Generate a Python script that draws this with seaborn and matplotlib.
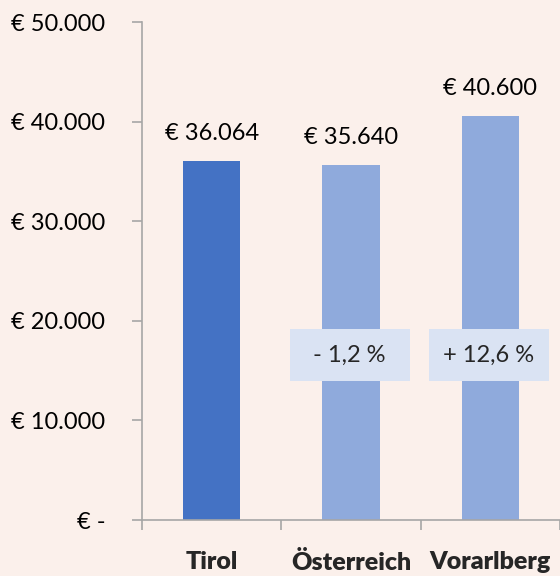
import matplotlib
matplotlib.use("Agg")
import matplotlib.pyplot as plt
import seaborn as sns
import pandas as pd
from matplotlib.patches import Rectangle
from matplotlib.ticker import FuncFormatter, FixedLocator

# data
regions = ["Tirol", "Österreich", "Vorarlberg"]
income = [36064, 35640, 40600]
income_labels = ["€ 36.064", "€ 35.640", "€ 40.600"]
diff_labels = [None, "- 1,2 %", "+ 12,6 %"]
y_ticks = [0, 10000, 20000, 30000, 40000, 50000]

bg = "#FBF0EB"
bar_colors = ["#4472C4", "#8FAADC", "#8FAADC"]
box_color = "#DAE3F3"
axis_color = "#A6A6A6"

sns.set_style("white")
plt.rcParams["font.family"] = ["Lato", "DejaVu Sans"]

df = pd.DataFrame({"region": regions, "income": income})

fig = plt.figure(figsize=(5.6, 5.76), dpi=100, facecolor=bg)
ax = fig.add_axes([0.2536, 0.0972, 0.7464, 0.8646])
ax.set_facecolor(bg)

sns.barplot(data=df, x="region", y="income", hue="region", palette=bar_colors,
            width=0.41, legend=False, ax=ax, saturation=1, linewidth=0)

ax.set_xlim(-0.5, 2.5)
ax.set_ylim(0, 50000)

# value labels above bars
for i, (v, lab) in enumerate(zip(income, income_labels)):
    ax.annotate(lab, (i, v), xytext=(0, 12), textcoords="offset points",
                ha="center", va="bottom", fontsize=17, color="black")

# difference boxes
for i, lab in enumerate(diff_labels):
    if lab is None:
        continue
    ax.add_patch(Rectangle((i - 0.44, 13950), 0.86, 5250, facecolor=box_color,
                           edgecolor="none", zorder=3))
    ax.text(i - 0.01, 16575, lab, ha="center", va="center", fontsize=17, zorder=4)

# axes styling
for s in ["top", "right"]:
    ax.spines[s].set_visible(False)
for s in ["left", "bottom"]:
    ax.spines[s].set_color(axis_color)
    ax.spines[s].set_linewidth(1.2)

ax.yaxis.set_major_locator(FixedLocator(y_ticks))
ax.yaxis.set_major_formatter(FuncFormatter(
    lambda v, p: "€ -" if v == 0 else "€ " + f"{int(v):,}".replace(",", ".")))
ax.tick_params(axis="y", direction="out", length=7.5, width=1.2, color=axis_color,
               pad=19, labelsize=17, labelcolor="black")
ax.yaxis.set_ticks_position("left")

ax.set_xticks(range(len(regions)))
ax.set_xticklabels(regions, fontweight="heavy", fontsize=18)
ax.set_xticks([-0.5, 0.5, 1.5, 2.5], minor=True)
ax.tick_params(axis="x", which="major", length=0, pad=22)
ax.tick_params(axis="x", which="minor", direction="out", length=7.5, width=1.2,
               color=axis_color)
ax.xaxis.set_ticks_position("bottom")

ax.set_xlabel("")
ax.set_ylabel("")
ax.grid(False)

fig.savefig("out.png", dpi=100, facecolor=bg)
